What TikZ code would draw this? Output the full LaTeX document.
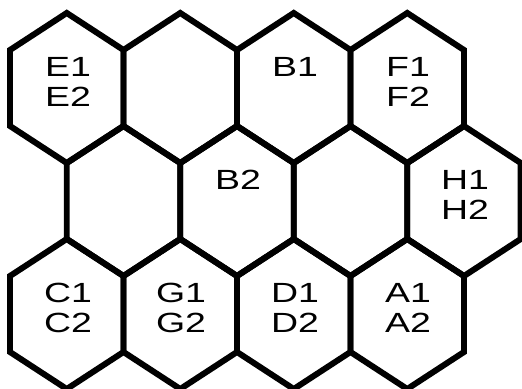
\documentclass[tikz,border=0pt]{standalone}
\usepackage{fontspec}
\setmainfont{Liberation Sans}
\usetikzlibrary{positioning}

\begin{document}
\begin{tikzpicture}[
  x=0.02cm, y=-0.02cm,
  hexline/.style={line width=0.12cm, line join=miter},
  hexlabel/.style={anchor=north, inner sep=0pt, align=center, xscale=1.35, font=\fontsize{15.8}{17}\selectfont}
]
\useasboundingbox (0,0) rectangle (522,389);
% cells: centre x / centre y
\foreach \cx/\cy in {66.75/88, 180.25/88, 293.75/88, 407.25/88,
                     123.5/201, 237/201, 350.5/201, 464/201,
                     66.75/314, 180.25/314, 293.75/314, 407.25/314}
  \draw[hexline] (\cx,\cy-75) -- (\cx+56.75,\cy-38) -- (\cx+56.75,\cy+38)
    -- (\cx,\cy+75) -- (\cx-56.75,\cy+38) -- (\cx-56.75,\cy-38) -- cycle;
% labels
\node[hexlabel] (e) at (68,57) {E1\\E2};
\node[hexlabel] (b1) at (295,57) {B1};
\node[hexlabel] (f) at (408,57) {F1\\F2};
\node[hexlabel] (b2) at (238,170) {B2};
\node[hexlabel] (h) at (465,170) {H1\\H2};
\node[hexlabel] (c) at (68,283) {C1\\C2};
\node[hexlabel] (g) at (181,283) {G1\\G2};
\node[hexlabel] (d) at (295,283) {D1\\D2};
\node[hexlabel] (a) at (408,283) {A1\\A2};
\end{tikzpicture}
\end{document}
